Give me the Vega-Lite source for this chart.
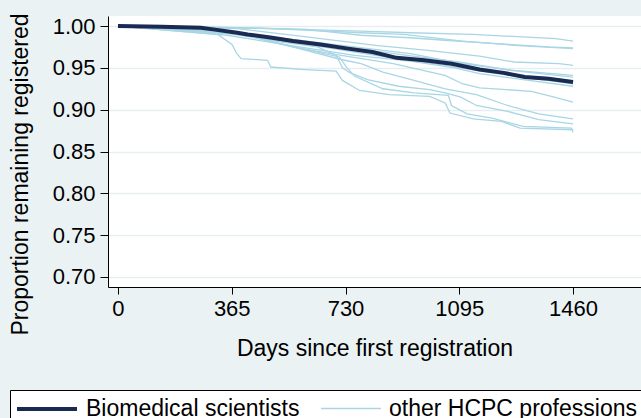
{
  "$schema": "https://vega.github.io/schema/vega-lite/v6.json",
  "autosize": "none",
  "width": 533,
  "height": 271,
  "padding": {"left": 108, "top": 16, "right": 0, "bottom": 131},
  "background": "#eaf2f3",
  "config": {
    "view": {"stroke": null, "fill": "white"},
    "font": "Liberation Sans",
    "axis": {"labelFont": "Liberation Sans", "titleFont": "Liberation Sans", "domainColor": "black", "tickColor": "black", "labelColor": "black", "titleColor": "black", "titleFontWeight": "normal"}
  },
  "datasets": {
    "bio": [
      {"group": "Biomedical scientists", "curve": "bio", "day": 0, "value": 1.0},
      {"group": "Biomedical scientists", "curve": "bio", "day": 139, "value": 0.999},
      {"group": "Biomedical scientists", "curve": "bio", "day": 266, "value": 0.998},
      {"group": "Biomedical scientists", "curve": "bio", "day": 305, "value": 0.996},
      {"group": "Biomedical scientists", "curve": "bio", "day": 383, "value": 0.992},
      {"group": "Biomedical scientists", "curve": "bio", "day": 416, "value": 0.99},
      {"group": "Biomedical scientists", "curve": "bio", "day": 494, "value": 0.986},
      {"group": "Biomedical scientists", "curve": "bio", "day": 561, "value": 0.982},
      {"group": "Biomedical scientists", "curve": "bio", "day": 650, "value": 0.978},
      {"group": "Biomedical scientists", "curve": "bio", "day": 738, "value": 0.973},
      {"group": "Biomedical scientists", "curve": "bio", "day": 816, "value": 0.969},
      {"group": "Biomedical scientists", "curve": "bio", "day": 894, "value": 0.962},
      {"group": "Biomedical scientists", "curve": "bio", "day": 983, "value": 0.959},
      {"group": "Biomedical scientists", "curve": "bio", "day": 1071, "value": 0.955},
      {"group": "Biomedical scientists", "curve": "bio", "day": 1160, "value": 0.948},
      {"group": "Biomedical scientists", "curve": "bio", "day": 1238, "value": 0.944},
      {"group": "Biomedical scientists", "curve": "bio", "day": 1305, "value": 0.939},
      {"group": "Biomedical scientists", "curve": "bio", "day": 1382, "value": 0.937},
      {"group": "Biomedical scientists", "curve": "bio", "day": 1460, "value": 0.933}
    ],
    "other": [
      {"group": "other HCPC professions", "curve": "c1", "day": 0, "value": 1.0},
      {"group": "other HCPC professions", "curve": "c1", "day": 270, "value": 0.999},
      {"group": "other HCPC professions", "curve": "c1", "day": 495, "value": 0.997},
      {"group": "other HCPC professions", "curve": "c1", "day": 780, "value": 0.994},
      {"group": "other HCPC professions", "curve": "c1", "day": 937, "value": 0.992},
      {"group": "other HCPC professions", "curve": "c1", "day": 1138, "value": 0.99},
      {"group": "other HCPC professions", "curve": "c1", "day": 1405, "value": 0.985},
      {"group": "other HCPC professions", "curve": "c1", "day": 1460, "value": 0.982},
      {"group": "other HCPC professions", "curve": "c2", "day": 0, "value": 1.0},
      {"group": "other HCPC professions", "curve": "c2", "day": 383, "value": 0.998},
      {"group": "other HCPC professions", "curve": "c2", "day": 605, "value": 0.996},
      {"group": "other HCPC professions", "curve": "c2", "day": 780, "value": 0.989},
      {"group": "other HCPC professions", "curve": "c2", "day": 937, "value": 0.986},
      {"group": "other HCPC professions", "curve": "c2", "day": 1049, "value": 0.983},
      {"group": "other HCPC professions", "curve": "c2", "day": 1216, "value": 0.979},
      {"group": "other HCPC professions", "curve": "c2", "day": 1382, "value": 0.975},
      {"group": "other HCPC professions", "curve": "c2", "day": 1460, "value": 0.974},
      {"group": "other HCPC professions", "curve": "c3", "day": 0, "value": 1.0},
      {"group": "other HCPC professions", "curve": "c3", "day": 494, "value": 0.997},
      {"group": "other HCPC professions", "curve": "c3", "day": 780, "value": 0.992},
      {"group": "other HCPC professions", "curve": "c3", "day": 916, "value": 0.99},
      {"group": "other HCPC professions", "curve": "c3", "day": 1105, "value": 0.982},
      {"group": "other HCPC professions", "curve": "c3", "day": 1271, "value": 0.977},
      {"group": "other HCPC professions", "curve": "c3", "day": 1460, "value": 0.973},
      {"group": "other HCPC professions", "curve": "c4", "day": 0, "value": 1.0},
      {"group": "other HCPC professions", "curve": "c4", "day": 383, "value": 0.997},
      {"group": "other HCPC professions", "curve": "c4", "day": 605, "value": 0.987},
      {"group": "other HCPC professions", "curve": "c4", "day": 827, "value": 0.977},
      {"group": "other HCPC professions", "curve": "c4", "day": 994, "value": 0.971},
      {"group": "other HCPC professions", "curve": "c4", "day": 1160, "value": 0.964},
      {"group": "other HCPC professions", "curve": "c4", "day": 1271, "value": 0.957},
      {"group": "other HCPC professions", "curve": "c4", "day": 1415, "value": 0.955},
      {"group": "other HCPC professions", "curve": "c4", "day": 1460, "value": 0.953},
      {"group": "other HCPC professions", "curve": "c5", "day": 0, "value": 1.0},
      {"group": "other HCPC professions", "curve": "c5", "day": 300, "value": 0.995},
      {"group": "other HCPC professions", "curve": "c5", "day": 494, "value": 0.987},
      {"group": "other HCPC professions", "curve": "c5", "day": 716, "value": 0.977},
      {"group": "other HCPC professions", "curve": "c5", "day": 938, "value": 0.967},
      {"group": "other HCPC professions", "curve": "c5", "day": 1105, "value": 0.955},
      {"group": "other HCPC professions", "curve": "c5", "day": 1271, "value": 0.947},
      {"group": "other HCPC professions", "curve": "c5", "day": 1460, "value": 0.941},
      {"group": "other HCPC professions", "curve": "c6", "day": 0, "value": 1.0},
      {"group": "other HCPC professions", "curve": "c6", "day": 350, "value": 0.991},
      {"group": "other HCPC professions", "curve": "c6", "day": 550, "value": 0.981},
      {"group": "other HCPC professions", "curve": "c6", "day": 727, "value": 0.975},
      {"group": "other HCPC professions", "curve": "c6", "day": 927, "value": 0.965},
      {"group": "other HCPC professions", "curve": "c6", "day": 1093, "value": 0.957},
      {"group": "other HCPC professions", "curve": "c6", "day": 1260, "value": 0.947},
      {"group": "other HCPC professions", "curve": "c6", "day": 1460, "value": 0.939},
      {"group": "other HCPC professions", "curve": "c7", "day": 0, "value": 1.0},
      {"group": "other HCPC professions", "curve": "c7", "day": 383, "value": 0.991},
      {"group": "other HCPC professions", "curve": "c7", "day": 605, "value": 0.978},
      {"group": "other HCPC professions", "curve": "c7", "day": 827, "value": 0.965},
      {"group": "other HCPC professions", "curve": "c7", "day": 1049, "value": 0.953},
      {"group": "other HCPC professions", "curve": "c7", "day": 1216, "value": 0.943},
      {"group": "other HCPC professions", "curve": "c7", "day": 1460, "value": 0.931},
      {"group": "other HCPC professions", "curve": "c8", "day": 0, "value": 1.0},
      {"group": "other HCPC professions", "curve": "c8", "day": 350, "value": 0.989},
      {"group": "other HCPC professions", "curve": "c8", "day": 550, "value": 0.977},
      {"group": "other HCPC professions", "curve": "c8", "day": 760, "value": 0.965},
      {"group": "other HCPC professions", "curve": "c8", "day": 938, "value": 0.958},
      {"group": "other HCPC professions", "curve": "c8", "day": 1080, "value": 0.95},
      {"group": "other HCPC professions", "curve": "c8", "day": 1160, "value": 0.943},
      {"group": "other HCPC professions", "curve": "c8", "day": 1300, "value": 0.936},
      {"group": "other HCPC professions", "curve": "c8", "day": 1460, "value": 0.928},
      {"group": "other HCPC professions", "curve": "c9", "day": 0, "value": 1.0},
      {"group": "other HCPC professions", "curve": "c9", "day": 383, "value": 0.992},
      {"group": "other HCPC professions", "curve": "c9", "day": 560, "value": 0.975},
      {"group": "other HCPC professions", "curve": "c9", "day": 716, "value": 0.965},
      {"group": "other HCPC professions", "curve": "c9", "day": 883, "value": 0.955},
      {"group": "other HCPC professions", "curve": "c9", "day": 1049, "value": 0.941},
      {"group": "other HCPC professions", "curve": "c9", "day": 1105, "value": 0.931},
      {"group": "other HCPC professions", "curve": "c9", "day": 1160, "value": 0.926},
      {"group": "other HCPC professions", "curve": "c9", "day": 1327, "value": 0.922},
      {"group": "other HCPC professions", "curve": "c9", "day": 1400, "value": 0.915},
      {"group": "other HCPC professions", "curve": "c9", "day": 1460, "value": 0.909},
      {"group": "other HCPC professions", "curve": "c10", "day": 0, "value": 1.0},
      {"group": "other HCPC professions", "curve": "c10", "day": 300, "value": 0.997},
      {"group": "other HCPC professions", "curve": "c10", "day": 450, "value": 0.985},
      {"group": "other HCPC professions", "curve": "c10", "day": 560, "value": 0.975},
      {"group": "other HCPC professions", "curve": "c10", "day": 716, "value": 0.96},
      {"group": "other HCPC professions", "curve": "c10", "day": 780, "value": 0.955},
      {"group": "other HCPC professions", "curve": "c10", "day": 850, "value": 0.945},
      {"group": "other HCPC professions", "curve": "c10", "day": 950, "value": 0.935},
      {"group": "other HCPC professions", "curve": "c10", "day": 1050, "value": 0.925},
      {"group": "other HCPC professions", "curve": "c10", "day": 1150, "value": 0.918},
      {"group": "other HCPC professions", "curve": "c10", "day": 1250, "value": 0.905},
      {"group": "other HCPC professions", "curve": "c10", "day": 1350, "value": 0.895},
      {"group": "other HCPC professions", "curve": "c10", "day": 1460, "value": 0.889},
      {"group": "other HCPC professions", "curve": "c11", "day": 0, "value": 1.0},
      {"group": "other HCPC professions", "curve": "c11", "day": 350, "value": 0.993},
      {"group": "other HCPC professions", "curve": "c11", "day": 520, "value": 0.981},
      {"group": "other HCPC professions", "curve": "c11", "day": 640, "value": 0.975},
      {"group": "other HCPC professions", "curve": "c11", "day": 700, "value": 0.965},
      {"group": "other HCPC professions", "curve": "c11", "day": 720, "value": 0.95},
      {"group": "other HCPC professions", "curve": "c11", "day": 745, "value": 0.944},
      {"group": "other HCPC professions", "curve": "c11", "day": 800, "value": 0.936},
      {"group": "other HCPC professions", "curve": "c11", "day": 900, "value": 0.928},
      {"group": "other HCPC professions", "curve": "c11", "day": 1000, "value": 0.924},
      {"group": "other HCPC professions", "curve": "c11", "day": 1050, "value": 0.92},
      {"group": "other HCPC professions", "curve": "c11", "day": 1100, "value": 0.915},
      {"group": "other HCPC professions", "curve": "c11", "day": 1150, "value": 0.905},
      {"group": "other HCPC professions", "curve": "c11", "day": 1250, "value": 0.898},
      {"group": "other HCPC professions", "curve": "c11", "day": 1350, "value": 0.888},
      {"group": "other HCPC professions", "curve": "c11", "day": 1460, "value": 0.883},
      {"group": "other HCPC professions", "curve": "c12", "day": 0, "value": 1.0},
      {"group": "other HCPC professions", "curve": "c12", "day": 320, "value": 0.99},
      {"group": "other HCPC professions", "curve": "c12", "day": 366, "value": 0.978},
      {"group": "other HCPC professions", "curve": "c12", "day": 380, "value": 0.968},
      {"group": "other HCPC professions", "curve": "c12", "day": 395, "value": 0.961},
      {"group": "other HCPC professions", "curve": "c12", "day": 480, "value": 0.959},
      {"group": "other HCPC professions", "curve": "c12", "day": 490, "value": 0.951},
      {"group": "other HCPC professions", "curve": "c12", "day": 600, "value": 0.948},
      {"group": "other HCPC professions", "curve": "c12", "day": 700, "value": 0.946},
      {"group": "other HCPC professions", "curve": "c12", "day": 720, "value": 0.935},
      {"group": "other HCPC professions", "curve": "c12", "day": 775, "value": 0.923},
      {"group": "other HCPC professions", "curve": "c12", "day": 870, "value": 0.918},
      {"group": "other HCPC professions", "curve": "c12", "day": 1000, "value": 0.916},
      {"group": "other HCPC professions", "curve": "c12", "day": 1050, "value": 0.908},
      {"group": "other HCPC professions", "curve": "c12", "day": 1065, "value": 0.896},
      {"group": "other HCPC professions", "curve": "c12", "day": 1140, "value": 0.889},
      {"group": "other HCPC professions", "curve": "c12", "day": 1230, "value": 0.886},
      {"group": "other HCPC professions", "curve": "c12", "day": 1290, "value": 0.878},
      {"group": "other HCPC professions", "curve": "c12", "day": 1460, "value": 0.876},
      {"group": "other HCPC professions", "curve": "c13", "day": 0, "value": 1.0},
      {"group": "other HCPC professions", "curve": "c13", "day": 400, "value": 0.99},
      {"group": "other HCPC professions", "curve": "c13", "day": 600, "value": 0.972},
      {"group": "other HCPC professions", "curve": "c13", "day": 710, "value": 0.963},
      {"group": "other HCPC professions", "curve": "c13", "day": 735, "value": 0.95},
      {"group": "other HCPC professions", "curve": "c13", "day": 760, "value": 0.94},
      {"group": "other HCPC professions", "curve": "c13", "day": 850, "value": 0.925},
      {"group": "other HCPC professions", "curve": "c13", "day": 950, "value": 0.92},
      {"group": "other HCPC professions", "curve": "c13", "day": 1060, "value": 0.917},
      {"group": "other HCPC professions", "curve": "c13", "day": 1070, "value": 0.905},
      {"group": "other HCPC professions", "curve": "c13", "day": 1120, "value": 0.895},
      {"group": "other HCPC professions", "curve": "c13", "day": 1200, "value": 0.89},
      {"group": "other HCPC professions", "curve": "c13", "day": 1300, "value": 0.88},
      {"group": "other HCPC professions", "curve": "c13", "day": 1455, "value": 0.878},
      {"group": "other HCPC professions", "curve": "c13", "day": 1460, "value": 0.873}
    ]
  },
  "encoding": {
    "x": {
      "field": "day", "type": "quantitative",
      "scale": {"domain": [-32, 1678], "nice": false, "zero": false},
      "axis": {"values": [0, 365, 730, 1095, 1460], "format": "d", "title": "Days since first registration", "grid": false, "labelFontSize": 22, "titleFontSize": 23, "tickSize": 7, "labelPadding": 4, "titlePadding": 18, "labelFlush": false}
    },
    "y": {
      "field": "value", "type": "quantitative",
      "scale": {"domain": [0.688, 1.012], "nice": false, "zero": false},
      "axis": {"values": [0.7, 0.75, 0.8, 0.85, 0.9, 0.95, 1.0], "format": ".2f", "title": "Proportion remaining registered", "titleY": 158, "grid": true, "gridColor": "#e6eef1", "gridWidth": 1.5, "labelFontSize": 22, "titleFontSize": 23, "tickSize": 8, "labelPadding": 5, "titlePadding": 20, "labelFlush": false}
    },
    "color": {
      "field": "group", "type": "nominal",
      "scale": {"domain": ["Biomedical scientists", "other HCPC professions"], "range": ["#1b2a52", "#a8d6e4"]},
      "legend": {
        "title": null, "orient": "none", "legendX": -98, "legendY": 374, "direction": "horizontal",
        "symbolType": "M-1,0H4", "symbolSize": 576, "labelFontSize": 23, "labelFont": "Liberation Sans", "labelColor": "black", "labelLimit": 500,
        "strokeColor": "black", "fillColor": "white", "padding": 5, "columnPadding": 18, "labelOffset": 43
      }
    },
    "strokeWidth": {
      "field": "group", "type": "nominal",
      "scale": {"domain": ["Biomedical scientists", "other HCPC professions"], "range": [4, 1.3]}
    },
    "detail": {"field": "curve", "type": "nominal"}
  },
  "layer": [
    {"data": {"name": "other"}, "mark": {"type": "line", "interpolate": "linear"}},
    {"data": {"name": "bio"}, "mark": {"type": "line", "interpolate": "linear"}}
  ]
}
